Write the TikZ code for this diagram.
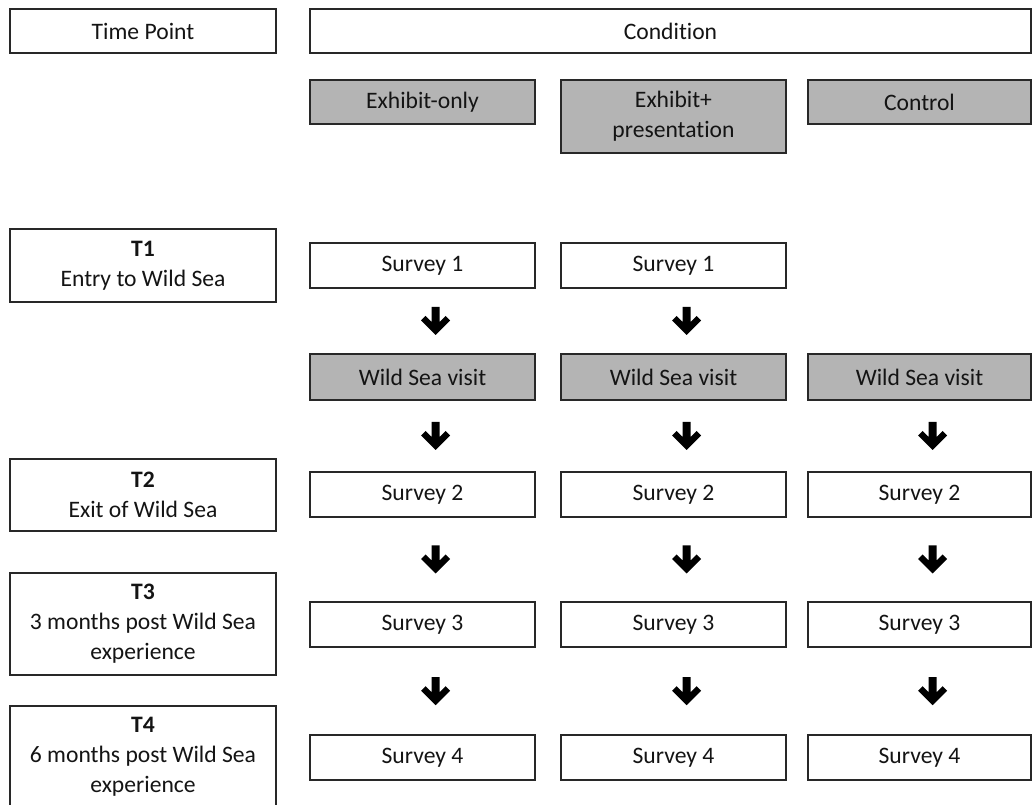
\documentclass[tikz,border=0pt]{standalone}
\usepackage{fontspec}
\setmainfont{Carlito}[Ligatures={NoCommon}]
\usetikzlibrary{calc}
\definecolor{boxgray}{RGB}{180,180,180}
\definecolor{edge}{RGB}{40,40,40}
\definecolor{txt}{RGB}{20,20,20}
\newcommand\flowarrow[2]{\fill[black, shift={($(#1.south)!0.5!(#2.north)$)}] (9,-14) -- (17,-14) -- (17,1) -- (23,-5) -- (27.5,-0.5) -- (13,14) -- (-1.5,-0.5) -- (3,-5) -- (9,1) -- cycle;}
\begin{document}
\begin{tikzpicture}[x=0.75pt,y=-0.75pt,
 box/.style={draw=edge, line width=1.5pt, fill=white, text=txt, inner sep=0pt, align=center, font=\fontsize{17.7}{22.5}\selectfont},
 shaded/.style={box, fill=boxgray},
 sz/.style 2 args={minimum width=#1*0.75pt, minimum height=#2*0.75pt}]
\clip (0,0) rectangle (1033,805);
\fill[white] (0,0) rectangle (1033,805);
% header
\node[box, sz={266}{44}] (tp) at (143,31) {Time Point};
\node[box, sz={721}{44}] (cond) at (670.5,31) {Condition};
\node[shaded, sz={225}{44}] (h1) at (422.5,102) {Exhibit-only};
\node[shaded, sz={225}{73}] (h2) at (673.5,116.5) {Exhibit+\\presentation};
\node[shaded, sz={223}{44}] (h3) at (919.5,102) {Control};
% time points
\node[box, sz={266}{73}] (t1) at (143,265.5) {\textbf{T1}\\Entry to Wild Sea};
\node[box, sz={266}{72}] (t2) at (143,495) {\textbf{T2}\\Exit of Wild Sea};
\node[box, sz={266}{102}] (t3) at (143,624) {\textbf{T3}\\3 months post Wild Sea\\experience};
\node[box, sz={266}{102}] (t4) at (143,757) {\textbf{T4}\\6 months post Wild Sea\\experience};
% row 1
\node[box, sz={225}{45}] (s11) at (422.5,265.5) {Survey 1};
\node[box, sz={225}{45}] (s12) at (673.5,265.5) {Survey 1};
% visit
\node[shaded, sz={225}{46}] (w1) at (422.5,377) {Wild Sea visit};
\node[shaded, sz={225}{46}] (w2) at (673.5,377) {Wild Sea visit};
\node[shaded, sz={223}{46}] (w3) at (919.5,377) {Wild Sea visit};
% survey 2
\node[box, sz={225}{45}] (s21) at (422.5,494.5) {Survey 2};
\node[box, sz={225}{45}] (s22) at (673.5,494.5) {Survey 2};
\node[box, sz={223}{45}] (s23) at (919.5,494.5) {Survey 2};
% survey 3
\node[box, sz={225}{45}] (s31) at (422.5,624.5) {Survey 3};
\node[box, sz={225}{45}] (s32) at (673.5,624.5) {Survey 3};
\node[box, sz={223}{45}] (s33) at (919.5,624.5) {Survey 3};
% survey 4
\node[box, sz={225}{44}] (s41) at (422.5,757.5) {Survey 4};
\node[box, sz={225}{44}] (s42) at (673.5,757.5) {Survey 4};
\node[box, sz={223}{44}] (s43) at (919.5,757.5) {Survey 4};
% arrows
\flowarrow{s11}{w1}
\flowarrow{s12}{w2}
\flowarrow{w1}{s21}
\flowarrow{w2}{s22}
\flowarrow{w3}{s23}
\flowarrow{s21}{s31}
\flowarrow{s22}{s32}
\flowarrow{s23}{s33}
\flowarrow{s31}{s41}
\flowarrow{s32}{s42}
\flowarrow{s33}{s43}
\end{tikzpicture}
\end{document}
